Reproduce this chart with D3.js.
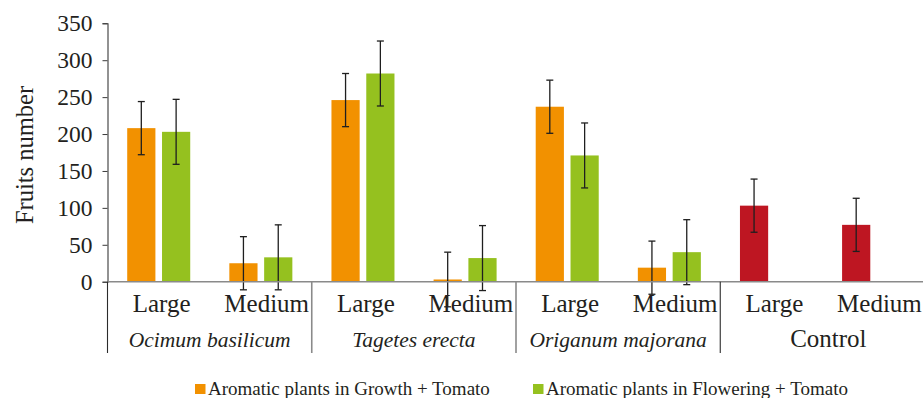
<!DOCTYPE html>
<html>
<head>
<meta charset="utf-8">
<script src="https://cdn.jsdelivr.net/npm/d3@7"></script>
<style>
  html, body { margin: 0; padding: 0; background: #fff; }
  svg { display: block; }
  svg text { font-family: "Liberation Serif", "DejaVu Serif", "Noto Serif", serif; fill: #231f20; }
</style>
</head>
<body>
<svg id="chart" width="923" height="398"></svg>
<script>
// Fruit counts by tomato fruit size, grouped by companion aromatic plant
const groups = ["Ocimum basilicum", "Tagetes erecta", "Origanum majorana", "Control"];
const sizes = ["Large", "Medium"];
const yTicks = [0, 50, 100, 150, 200, 250, 300, 350];

// One entry per (group, size), in the order above
const growthValues    = [208, 25, 246, 3, 237, 19, null, null];
const growthErrors    = [36, 36, 36, 37, 36, 36, null, null];
const floweringValues = [203, 33, 282, 32, 171, 40, null, null];
const floweringErrors = [44, 44, 44, 44, 44, 44, null, null];
const controlValues   = [null, null, null, null, null, null, 103, 77];
const controlErrors   = [null, null, null, null, null, null, 36, 36];

const seriesNames = ["Aromatic plants in Growth + Tomato", "Aromatic plants in Flowering + Tomato"];
const colors = { growth: "#f29100", flowering: "#95c11f", control: "#be1622" };
const FONT = "'Liberation Serif', 'DejaVu Serif', 'Noto Serif', serif";

const svg = d3.select("#chart");
const plot = { left: 107.5, right: 924.5, top: 23.3, bottom: 281.7 };

const cells = [];
groups.forEach((g, gi) => sizes.forEach((s, si) => cells.push({ key: gi + "|" + s, group: g, size: s, gi })));

const x0 = d3.scaleBand().domain(cells.map(c => c.key)).range([plot.left, plot.right]).padding(0);
const bw = x0.bandwidth();
const x1 = d3.scaleBand().domain(["first", "second"]).range([bw * 0.193, bw * 0.81]).paddingInner(0.19);
const y = d3.scaleLinear().domain([0, 350]).range([plot.bottom, plot.top]);

// bar records
const bars = [];
cells.forEach((c, i) => {
  if (growthValues[i] != null) bars.push({ cell: c, slot: "first", v: growthValues[i], e: growthErrors[i], color: colors.growth });
  if (floweringValues[i] != null) bars.push({ cell: c, slot: "second", v: floweringValues[i], e: floweringErrors[i], color: colors.flowering });
  if (controlValues[i] != null) bars.push({ cell: c, slot: "first", v: controlValues[i], e: controlErrors[i], color: colors.control });
});

// y axis
const yAxis = d3.axisLeft(y).tickValues(yTicks).tickSize(5).tickPadding(10);
const gy = svg.append("g").attr("transform", `translate(${plot.left},0)`).call(yAxis)
  .attr("font-family", FONT);
gy.select(".domain").attr("stroke", "#3a3a3a").attr("stroke-width", 1.1);
gy.selectAll(".tick line").attr("stroke", "#3a3a3a");
gy.selectAll(".tick text").attr("font-size", 23.5).attr("fill", "#231f20");

// y title
svg.append("text")
  .attr("transform", `translate(32.5,${(plot.top + plot.bottom) / 2 + 2.5}) rotate(-90)`)
  .attr("text-anchor", "middle")
  .attr("font-family", FONT)
  .attr("font-size", 24.5)
  .text("Fruits number");

// bars
svg.append("g").selectAll("rect").data(bars).join("rect")
  .attr("x", d => x0(d.cell.key) + x1(d.slot))
  .attr("width", x1.bandwidth())
  .attr("y", d => y(d.v))
  .attr("height", d => y(0) - y(d.v))
  .attr("fill", d => d.color);

// error bars
const eg = svg.append("g").attr("stroke", "#1f1f1f").attr("stroke-width", 1.3);
bars.forEach(d => {
  const cx = x0(d.cell.key) + x1(d.slot) + x1.bandwidth() / 2;
  eg.append("line").attr("x1", cx).attr("x2", cx).attr("y1", y(d.v + d.e)).attr("y2", y(d.v - d.e));
  [d.v + d.e, d.v - d.e].forEach(val => {
    eg.append("line").attr("x1", cx - 3.5).attr("x2", cx + 3.5).attr("y1", y(val)).attr("y2", y(val));
  });
});

// x axis baseline
svg.append("line")
  .attr("x1", plot.left).attr("x2", plot.right)
  .attr("y1", y(0)).attr("y2", y(0))
  .attr("stroke", "#8a8a8a").attr("stroke-width", 1.6);

// group separators
const sepBottom = 353;
groups.forEach((g, gi) => {
  const xs = x0(gi + "|Large");
  svg.append("line")
    .attr("x1", xs).attr("x2", xs).attr("y1", y(0)).attr("y2", sepBottom)
    .attr("stroke", (gi === 0 || gi === 3) ? "#2b2b2b" : "#8a8a8a")
    .attr("stroke-width", (gi === 0 || gi === 3) ? 1.1 : 1.6);
});

// size labels
svg.append("g").selectAll("text").data(cells).join("text")
  .attr("x", d => x0(d.key) + bw / 2 + (d.size === "Medium" ? 6 : 3))
  .attr("y", 311.5)
  .attr("text-anchor", "middle")
  .attr("font-family", FONT)
  .attr("font-size", 25)
  .text(d => d.size);

// group labels
svg.append("g").selectAll("text").data(groups).join("text")
  .attr("x", (g, gi) => x0(gi + "|Large") + bw + (gi === 3 ? 6 : 0))
  .attr("y", 347)
  .attr("text-anchor", "middle")
  .attr("font-family", FONT)
  .attr("font-size", (g, gi) => gi === 3 ? 25 : 21.5)
  .attr("font-style", (g, gi) => gi === 3 ? "normal" : "italic")
  .text(g => g);

// legend
const legend = [
  { name: seriesNames[0], color: colors.growth, x: 195 },
  { name: seriesNames[1], color: colors.flowering, x: 533 }
];
const lg = svg.append("g").selectAll("g").data(legend).join("g")
  .attr("transform", d => `translate(${d.x},384)`);
lg.append("rect").attr("width", 10.5).attr("height", 10).attr("fill", d => d.color);
lg.append("text").attr("x", 13).attr("y", 11)
  .attr("font-family", FONT)
  .attr("font-size", 19).text(d => d.name);
</script>
</body>
</html>
